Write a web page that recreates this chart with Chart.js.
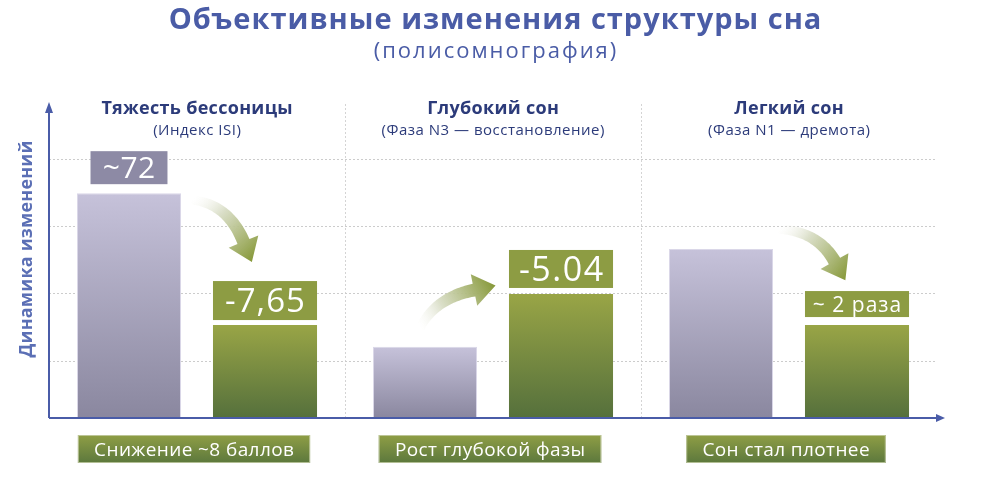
<!DOCTYPE html>
<html><head><meta charset="utf-8">
<script src="https://cdn.jsdelivr.net/npm/chart.js@4.4.1/dist/chart.umd.min.js"></script>
<style>html,body{margin:0;padding:0;background:#fff}canvas{display:block}</style>
</head><body>
<canvas id="c" width="990" height="480"></canvas>
<script>
// ---- data ----
const categories = ['Тяжесть бессоницы', 'Глубокий сон', 'Легкий сон'];
const categoryNotes = ['(Индекс ISI)', '(Фаза N3 — восстановление)', '(Фаза N1 — дремота)'];
const beforeValues = [71.6, 22.7, 53.8];
const afterValues = [29.6, 39.5, 29.6];
const beforeLabels = ['~72', '', ''];
const afterLabels = ['-7,65', '-5.04', '~ 2 раза'];
const summaryLabels = ['Снижение ~8 баллов', 'Рост глубокой фазы', 'Сон стал плотнее'];
const gridTicks = [18, 39.5, 61, 82.2];
const chartTitle = 'Объективные изменения структуры сна';
const chartSubtitle = '(полисомнография)';
const yAxisTitle = 'Динамика изменений';

// ---- styles ----
const FONT = '"Open Sans", "Noto Sans", sans-serif';
const AXIS = '#4a5ca8';
const NAVY = '#2c3b7a';
const OLIVE = '#8d9c43';
const afterStyle = [{size:33,h:39,gap:5,ls:1},{size:34,h:38,gap:6,ls:1.5},{size:21,h:26,gap:8,ls:1}];
const arrowShapes = [
  {p0:[-5,6.7], c:[31,10.7], p1:[46.5,48.4]},
  {p0:[-73,-18.7], c:[-58,-48.7], p1:[-19,-56.7]},
  {p0:[-10.5,-20], c:[28.5,-18], p1:[45.5,12]}
];

function barGradient(ctx, top, bottom){
  const chart = ctx.chart;
  if (!chart.chartArea || ctx.raw === undefined) return top;
  const y = chart.scales.y;
  const y0 = y.getPixelForValue(ctx.raw), y1 = y.getPixelForValue(0);
  const g = chart.ctx.createLinearGradient(0, y0, 0, y1);
  g.addColorStop(0, top); g.addColorStop(1, bottom);
  return g;
}

function drawCurvedArrow(c, p0, cp, p1, w0, w1, hh, hl){
  const N = 40, L = [], R = [];
  for (let k = 0; k <= N; k++){
    const t = k / N, mt = 1 - t;
    const x = mt*mt*p0[0] + 2*mt*t*cp[0] + t*t*p1[0];
    const y = mt*mt*p0[1] + 2*mt*t*cp[1] + t*t*p1[1];
    let dx = 2*mt*(cp[0]-p0[0]) + 2*t*(p1[0]-cp[0]);
    let dy = 2*mt*(cp[1]-p0[1]) + 2*t*(p1[1]-cp[1]);
    const len = Math.hypot(dx, dy); dx /= len; dy /= len;
    const w = (w0 + (w1 - w0) * t) / 2;
    L.push([x - dy*w, y + dx*w]); R.push([x + dy*w, y - dx*w]);
  }
  let dx = p1[0]-cp[0], dy = p1[1]-cp[1];
  const l = Math.hypot(dx, dy); dx /= l; dy /= l;
  const tip = [p1[0] + dx*hl, p1[1] + dy*hl];
  const hA = [p1[0] - dy*hh, p1[1] + dx*hh], hB = [p1[0] + dy*hh, p1[1] - dx*hh];
  c.beginPath();
  c.moveTo(L[0][0], L[0][1]);
  L.forEach(p => c.lineTo(p[0], p[1]));
  c.lineTo(hA[0], hA[1]); c.lineTo(tip[0], tip[1]); c.lineTo(hB[0], hB[1]);
  for (let k = R.length - 1; k >= 0; k--) c.lineTo(R[k][0], R[k][1]);
  c.closePath();
  const g = c.createLinearGradient(p0[0], p0[1], tip[0], tip[1]);
  g.addColorStop(0, 'rgba(245,245,240,0)');
  g.addColorStop(0.35, 'rgba(214,219,194,0.9)');
  g.addColorStop(1, '#869838');
  c.fillStyle = g; c.fill();
}

function spacedText(c, text, x, y, ls){
  c.letterSpacing = (ls || 0) + 'px';
  c.fillText(text, x + (ls || 0) / 2, y);
  c.letterSpacing = '0px';
}

function textBox(c, text, cx, bottomY, width, size, h, fill, pad, ls){
  c.font = size + 'px ' + FONT;
  c.letterSpacing = (ls || 0) + 'px';
  const tw = c.measureText(text).width;
  c.letterSpacing = '0px';
  const w = width || (tw + 2*pad);
  c.fillStyle = fill;
  c.fillRect(cx - w/2, bottomY - h, w, h);
  c.fillStyle = '#ffffff';
  c.textAlign = 'center'; c.textBaseline = 'alphabetic';
  spacedText(c, text, cx, bottomY - h/2 + size*0.36, ls);
}

const deco = {
  id: 'deco',
  afterDatasetsDraw(chart){
    const c = chart.ctx, xs = chart.scales.x, ca = chart.chartArea;
    const mB = chart.getDatasetMeta(0), mA = chart.getDatasetMeta(1);
    c.save();
    // titles
    c.textAlign = 'center'; c.textBaseline = 'alphabetic';
    c.fillStyle = '#4a5ca6';
    c.font = 'bold 29px ' + FONT;
    spacedText(c, chartTitle, 495, 29, 1);
    c.font = '22px ' + FONT;
    spacedText(c, chartSubtitle, 495, 58, 2);
    // y title
    c.save();
    c.translate(27, 249); c.rotate(-Math.PI/2);
    c.fillStyle = '#5b6fb5'; c.font = 'bold 18px ' + FONT;
    c.textBaseline = 'middle';
    spacedText(c, yAxisTitle, 0, 0, 0.2);
    c.restore();

    categories.forEach((cat, i) => {
      const cx = xs.getPixelForValue(i);
      const b = mB.data[i], a = mA.data[i];
      c.textAlign = 'center'; c.textBaseline = 'alphabetic';
      c.fillStyle = NAVY;
      c.font = 'bold 18px ' + FONT;
      spacedText(c, cat, cx, 114, 0.3);
      c.font = '15px ' + FONT;
      spacedText(c, categoryNotes[i], cx, 135, 0.5);
      // arrows
      const s = arrowShapes[i], yB = b.y;
      drawCurvedArrow(c, [cx+s.p0[0], yB+s.p0[1]], [cx+s.c[0], yB+s.c[1]], [cx+s.p1[0], yB+s.p1[1]], 9, 13, 16, 22);
      // value labels
      if (beforeLabels[i]) textBox(c, beforeLabels[i], b.x, b.y - 9, null, 30, 33, '#8d8aa5', 12, 0.5);
      if (afterLabels[i]) {
        const st = afterStyle[i];
        textBox(c, afterLabels[i], a.x, a.y - st.gap, a.width, st.size, st.h, OLIVE, 0, st.ls);
      }
      // summary boxes
      c.font = '19px ' + FONT;
      c.letterSpacing = '0.4px';
      const tw = c.measureText(summaryLabels[i]).width;
      c.letterSpacing = '0px';
      const w = tw + 32, x0 = cx - 3 - w/2, y0 = 435, h = 28;
      const g = c.createLinearGradient(0, y0, 0, y0 + h);
      g.addColorStop(0, '#8f9e45'); g.addColorStop(1, '#5c783d');
      c.fillStyle = g; c.fillRect(x0, y0, w, h);
      c.strokeStyle = 'rgba(200,208,170,0.8)'; c.lineWidth = 1;
      c.strokeRect(x0 + 0.5, y0 + 0.5, w - 1, h - 1);
      c.fillStyle = '#ffffff'; c.textAlign = 'center';
      spacedText(c, summaryLabels[i], cx - 3, y0 + h/2 + 19*0.36, 0.4);
    });

    // axes with arrows
    c.strokeStyle = AXIS; c.fillStyle = AXIS; c.lineWidth = 2;
    c.beginPath();
    c.moveTo(ca.left, ca.bottom); c.lineTo(ca.left, ca.top + 4);
    c.moveTo(ca.left, ca.bottom); c.lineTo(ca.right + 2, ca.bottom);
    c.stroke();
    c.beginPath();
    c.moveTo(ca.left, ca.top - 2); c.lineTo(ca.left - 4, ca.top + 9); c.lineTo(ca.left + 4, ca.top + 9); c.closePath(); c.fill();
    c.beginPath();
    c.moveTo(ca.right + 8, ca.bottom); c.lineTo(ca.right - 1, ca.bottom - 4); c.lineTo(ca.right - 1, ca.bottom + 4); c.closePath(); c.fill();
    c.restore();
  }
};

new Chart(document.getElementById('c'), {
  type: 'bar',
  data: {
    labels: categories,
    datasets: [
      { label: 'До', data: beforeValues,
        backgroundColor: ctx => barGradient(ctx, '#c6c2da', '#8a879f'),
        borderColor: '#dad7e8', borderWidth: 1,
        barPercentage: 0.765, categoryPercentage: 0.919 },
      { label: 'После', data: afterValues,
        backgroundColor: ctx => barGradient(ctx, '#99a546', '#55703c'),
        borderWidth: 0,
        barPercentage: 0.765, categoryPercentage: 0.919 }
    ]
  },
  options: {
    responsive: false,
    animation: false,
    devicePixelRatio: 1,
    layout: { padding: { left: 49, right: 53, top: 104, bottom: 62 } },
    plugins: { legend: { display: false }, tooltip: { enabled: false }, title: { display: false } },
    scales: {
      x: {
        offset: true,
        grid: { offset: true, drawTicks: false, lineWidth: 1,
          color: ctx => (ctx.index > 0 && ctx.index < categories.length) ? '#d4d4d4' : 'rgba(0,0,0,0)' },
        border: { display: false, dash: [2, 2] },
        ticks: { display: false }
      },
      y: {
        min: 0, max: 100,
        afterBuildTicks: s => { s.ticks = gridTicks.map(v => ({ value: v })); },
        grid: { drawTicks: false, color: '#cccccc', lineWidth: 1 },
        border: { display: false, dash: [2, 2] },
        ticks: { display: false }
      }
    }
  },
  plugins: [deco]
});
</script>
</body></html>
